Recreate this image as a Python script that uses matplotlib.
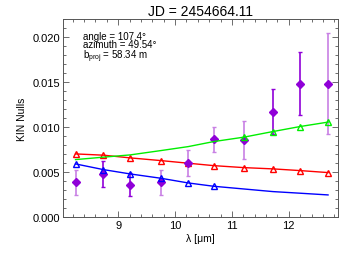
import matplotlib
matplotlib.use("Agg")
import matplotlib.pyplot as plt
from matplotlib.ticker import MultipleLocator, FormatStrFormatter

plt.rcParams.update({
    "font.family": ["Liberation Sans", "DejaVu Sans"],
    "mathtext.default": "regular",
    "xtick.direction": "in",
    "ytick.direction": "in",
    "xtick.top": True,
    "ytick.right": True,
})

# wavelength bins [um]
wave = [8.25, 8.74, 9.21, 9.75, 10.23, 10.68, 11.21, 11.72, 12.20, 12.69]

# measured nulls and errors
null_obs = [0.00389, 0.00481, 0.00362, 0.00389, 0.00603, 0.00867, 0.00859, 0.01173, 0.01480, 0.01481]
null_err = [0.00140, 0.00140, 0.00130, 0.00140, 0.00145, 0.00140, 0.00210, 0.00245, 0.00350, 0.00560]
light_bar = [True, False, False, True, True, True, True, False, False, True]

# model curves
null_red = [0.00703, 0.00689, 0.00659, 0.00629, 0.00600, 0.00573, 0.00551, 0.00537, 0.00518, 0.00496]
null_blue = [0.00592, 0.00529, 0.00481, 0.00433, 0.00381, 0.00344, 0.00314, 0.00285, 0.00267, 0.00248]
null_green = [0.00640, 0.00667, 0.00692, 0.00740, 0.00784, 0.00840, 0.00889, 0.00951, 0.01007, 0.01056]
blue_marks = [0, 1, 2, 3, 4, 5]
green_marks = [6, 7, 8, 9]

DARK_PURPLE = "#9000D8"
LIGHT_PURPLE = "#C880E4"

fig = plt.figure(figsize=(3.57, 2.55), dpi=100)
ax = fig.add_axes([0.1765, 0.144, 0.7695, 0.7776])

ax.plot(wave, null_red, color="red", lw=1.0, marker="^", ms=4.5,
        mfc="none", mec="red", mew=1.0, zorder=2)

for x, y, e, lt in zip(wave, null_obs, null_err, light_bar):
    c = LIGHT_PURPLE if lt else DARK_PURPLE
    ax.errorbar([x], [y], yerr=[e], fmt="none", ecolor=c, elinewidth=1.2,
                capsize=1.5, capthick=1.0, zorder=3)
ax.plot(wave, null_obs, ls="none", marker="D", ms=4, color=DARK_PURPLE, zorder=4)

ax.plot(wave, null_blue, color="blue", lw=1.0, marker="^", ms=4.5,
        mfc="none", mec="blue", mew=1.0, markevery=blue_marks, zorder=5)
ax.plot(wave, null_green, color="#00EE00", lw=1.0, marker="^", ms=4.5,
        mfc="none", mec="#00EE00", mew=1.0, markevery=green_marks, zorder=5)

ax.set_xlim(8.03, 12.86)
ax.set_ylim(0, 0.022)
ax.xaxis.set_major_locator(MultipleLocator(1))
ax.xaxis.set_minor_locator(MultipleLocator(0.2))
ax.yaxis.set_major_locator(MultipleLocator(0.005))
ax.yaxis.set_minor_locator(MultipleLocator(0.001))
ax.yaxis.set_major_formatter(FormatStrFormatter("%.3f"))
ax.tick_params(which="major", length=4, width=0.6, labelsize=8, pad=2, color="#555555")
ax.tick_params(which="minor", length=2, width=0.6, color="#555555")
for s in ax.spines.values():
    s.set_color("#555555")
    s.set_linewidth(0.7)

ax.set_xlabel("λ [μm]", fontsize=7.5, labelpad=2)
ax.set_ylabel("KIN Nulls", fontsize=7.5, labelpad=4)
ax.set_title("JD = 2454664.11", fontsize=10, pad=3)

ax.text(0.074, 0.94, "angle = 107.4°\nazimuth = 49.54°\n" + r"b$_{proj}$ = 58.34 m",
        transform=ax.transAxes, fontsize=7, va="top", ha="left", linespacing=0.8)

fig.savefig("out.png", dpi=100)
